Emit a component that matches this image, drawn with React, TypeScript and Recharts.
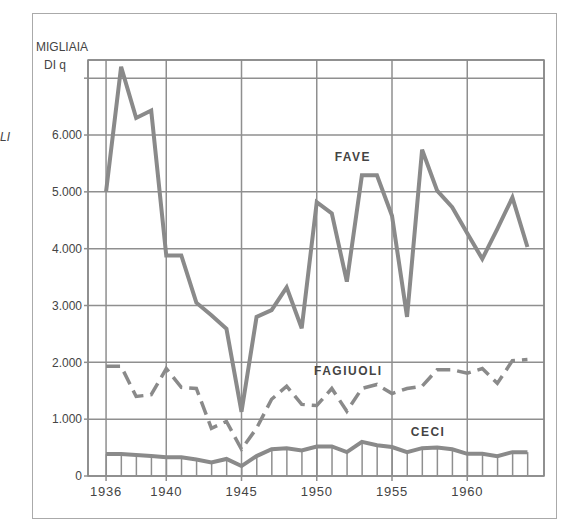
import { ComposedChart, Line, Bar, XAxis, YAxis, CartesianGrid, ReferenceArea, ReferenceDot } from 'recharts'

const years = [
  1936, 1937, 1938, 1939, 1940, 1941, 1942, 1943, 1944, 1945,
  1946, 1947, 1948, 1949, 1950, 1951, 1952, 1953, 1954, 1955,
  1956, 1957, 1958, 1959, 1960, 1961, 1962, 1963, 1964,
]

const fave = [
  5000, 7200, 6300, 6430, 3880, 3880, 3050, 2830, 2590, 1130,
  2800, 2920, 3320, 2600, 4820, 4620, 3420, 5290, 5290, 4580,
  2800, 5740, 5020, 4730, 4270, 3820, 4350, 4900, 4030,
]

const fagiuoli = [
  1930, 1930, 1400, 1430, 1890, 1560, 1540, 840, 960, 470,
  840, 1350, 1580, 1260, 1240, 1540, 1140, 1540, 1610, 1450,
  1540, 1580, 1870, 1870, 1810, 1890, 1630, 2030, 2050,
]

const ceci = [
  385, 385, 370, 350, 330, 330, 290, 240, 300, 175,
  350, 470, 490, 450, 520, 520, 420, 600, 540, 510,
  420, 490, 500, 470, 390, 390, 350, 420, 420,
]

const xTicks = [1936, 1940, 1945, 1950, 1955, 1960]
const yTicks = [0, 1000, 2000, 3000, 4000, 5000, 6000, 7000]

const data = years.map((year, i) => ({
  year,
  fave: fave[i],
  fagiuoli: fagiuoli[i],
  ceci: ceci[i],
}))

const X_MIN = 1934.8
const X_MAX = 1965.1
const Y_MAX = 7320

const INK = '#444'
const LINE = '#8a8a8a'
const GRID = '#8f8f8f'
const FONT = '"Liberation Sans", Arial, sans-serif'

const formatY = (v: number) => (v === 7000 ? '' : v === 0 ? '0' : `${v / 1000}.000`)

const seriesLabel = (text: string) => (props: any) => {
  const { viewBox } = props
  return (
    <text
      x={viewBox.x}
      y={viewBox.y}
      textAnchor="middle"
      dominantBaseline="middle"
      fill={INK}
      fontSize={12}
      fontWeight="bold"
      letterSpacing={1.5}
      fontFamily={FONT}
    >
      {text}
    </text>
  )
}

export default function App() {
  return (
    <div style={{ position: 'absolute', left: 0, top: 0, width: 564, height: 525, background: '#fff' }}>
      <div
        style={{
          position: 'absolute',
          left: 32,
          top: 13,
          width: 525,
          height: 506,
          border: '1.5px solid #aaa',
          boxSizing: 'border-box',
        }}
      />
      <div style={{ position: 'absolute', left: 36, top: 38, fontFamily: FONT, fontSize: 12, color: INK, lineHeight: '18px' }}>
        MIGLIAIA
        <br />
        <span style={{ marginLeft: 8 }}>DI q</span>
      </div>
      <div style={{ position: 'absolute', left: 0, top: 130, fontFamily: FONT, fontSize: 12, fontStyle: 'italic', color: INK }}>
        LI
      </div>
      <ComposedChart
        width={564}
        height={525}
        data={data}
        margin={{ top: 60, right: 20, bottom: 19, left: 28 }}
        style={{ position: 'absolute', left: 0, top: 0 }}
      >
        <CartesianGrid stroke={GRID} strokeWidth={1.5} />
        <XAxis
          dataKey="year"
          type="number"
          domain={[X_MIN, X_MAX]}
          ticks={xTicks}
          allowDataOverflow
          height={30}
          axisLine={false}
          tickLine={{ stroke: GRID, strokeWidth: 1.5 }}
          tickSize={5}
          tickMargin={6}
          tick={{ fill: INK, fontSize: 13, fontFamily: FONT, letterSpacing: 0.8 }}
        />
        <YAxis
          type="number"
          domain={[0, Y_MAX]}
          ticks={yTicks}
          allowDataOverflow
          width={60}
          axisLine={false}
          tickLine={{ stroke: GRID, strokeWidth: 1.5 }}
          tickSize={4}
          tickFormatter={formatY}
          tick={{ fill: INK, fontSize: 12, fontFamily: FONT }}
        />
        <ReferenceArea x1={X_MIN} x2={X_MAX} y1={0} y2={Y_MAX} fill="none" stroke="#888" strokeWidth={1.5} />
        <Bar dataKey="ceci" barSize={1.5} fill="#8f8f8f" isAnimationActive={false} />
        <Line
          dataKey="ceci"
          stroke={LINE}
          strokeWidth={4}
          dot={false}
          type="linear"
          isAnimationActive={false}
        />
        <Line
          dataKey="fagiuoli"
          stroke={LINE}
          strokeWidth={3.5}
          strokeDasharray="14 7"
          dot={false}
          type="linear"
          isAnimationActive={false}
        />
        <Line
          dataKey="fave"
          stroke={LINE}
          strokeWidth={4}
          dot={false}
          type="linear"
          strokeLinejoin="miter"
          isAnimationActive={false}
        />
        <ReferenceDot x={1952.4} y={5600} r={0} label={seriesLabel('FAVE')} />
        <ReferenceDot x={1952.1} y={1830} r={0} label={seriesLabel('FAGIUOLI')} />
        <ReferenceDot x={1957.4} y={760} r={0} label={seriesLabel('CECI')} />
      </ComposedChart>
    </div>
  )
}
